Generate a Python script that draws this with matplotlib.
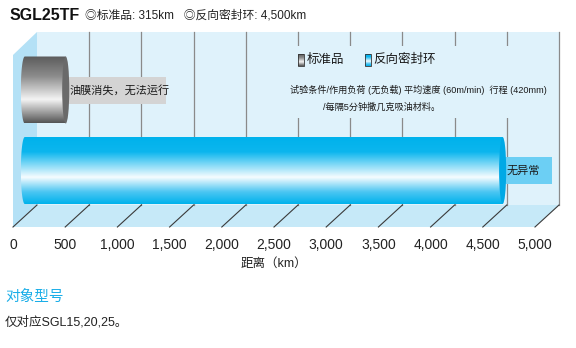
import numpy as np
import matplotlib.pyplot as plt
from matplotlib.patches import Polygon, Rectangle, Ellipse
from matplotlib.colors import LinearSegmentedColormap

plt.rcParams['font.family'] = ['Liberation Sans', 'Noto Sans CJK SC', 'DejaVu Sans']

# ===== 数据 =====
models = ['标准品', '反向密封环']
distance_km = [315, 4500]
results = ['油膜消失，无法运行', '无异常']
ticks = list(range(0, 5001, 500))
tick_labels = [f'{t:,}' for t in ticks]

# ===== 几何 (像素 -> 数据) =====
PXKM = 522 / 5000          # 每 km 像素
DX = 24 / PXKM             # 纵深偏移 (km)
DY = 22                    # 纵深偏移 (px)
TOP = 195

def kx(px):
    return (px - 13) / PXKM

def ky(py):
    return 227 - py

wall_c, side_c, floor_c = '#dff2fb', '#b4e1f6', '#c6e9f8'
cmaps = [
    LinearSegmentedColormap.from_list('g', [(0, '#5c5c5c'), (0.3, '#8c8c8c'), (0.65, '#f4f4f4'),
                                            (0.85, '#9a9a9a'), (1, '#555555')]),
    LinearSegmentedColormap.from_list('b', [(0, '#00b2ec'), (0.22, '#0cb6ee'), (0.6, '#f6fcff'),
                                            (0.82, '#4cc6f2'), (1, '#00b2ec')]),
]
cap_colors = ['#6a6a6a', '#00a9e6']
box_colors = ['#d4d4d4', '#6ccff4']
box_widths = [kx(162) - kx(62), kx(556) - kx(507)]
row_y = [ky(90), ky(170.5)]
half_h = 33.5

fig = plt.figure(figsize=(5.76, 3.48), dpi=100)
ax = fig.add_axes([13 / 576, 1 - 227 / 348, 522 / 576, 195 / 348])
ax.patch.set_visible(False)
for s in ax.spines.values():
    s.set_visible(False)

# ===== 背景墙 / 地面 =====
ax.add_patch(Rectangle((DX, DY), 5000, TOP - DY, fc=wall_c, ec='none', clip_on=False, zorder=0))
ax.add_patch(Polygon([(0, 0), (0, ky(55)), (DX, TOP), (DX, DY)], closed=True,
                     fc=side_c, ec='none', clip_on=False, zorder=0))
ax.add_patch(Polygon([(0, 0), (5000, 0), (5000 + DX, DY), (DX, DY)], closed=True,
                     fc=floor_c, ec='none', clip_on=False, zorder=0))
for t in ticks[1:]:
    ax.plot([t + DX, t + DX], [DY, TOP], color='#8a8a8a', lw=0.9, clip_on=False, zorder=1)
for t in ticks:
    ax.plot([t, t + DX], [0, DY], color='#3a3a3a', lw=0.8, clip_on=False, zorder=1)
# 说明文字区域
ax.add_patch(Rectangle((kx(283), ky(118)), kx(555) - kx(283), 72, fc=wall_c, ec='none',
                       clip_on=False, zorder=1.5))

# ===== 圆柱 =====
x_start = 75
rx_l, rx_c = 38, 34
for i, d in enumerate(distance_km):
    yc = row_y[i]
    x_end = d + 190
    th = np.linspace(np.pi / 2, 3 * np.pi / 2, 40)
    pts = [(x_start + rx_l + rx_l * np.cos(a), yc + half_h * np.sin(a)) for a in th]
    pts += [(x_end, yc - half_h), (x_end, yc + half_h)]
    body = Polygon(pts, closed=True, fc='none', ec='none', zorder=2)
    ax.add_patch(body)
    grad = np.linspace(0, 1, 200).reshape(-1, 1)
    im = ax.imshow(grad, cmap=cmaps[i], extent=(x_start, x_end, yc - half_h, yc + half_h),
                   aspect='auto', origin='upper', zorder=2, interpolation='bilinear')
    im.set_clip_path(body)
    # 标签
    ax.add_patch(Rectangle((x_end, yc - 13.5), box_widths[i], 27, fc=box_colors[i], ec='none',
                           clip_on=False, zorder=2.5))
    ax.add_patch(Ellipse((x_end, yc), 2 * rx_c, 2 * half_h, fc=cap_colors[i], ec='none',
                         clip_on=False, zorder=3))
    ax.text(x_end + rx_c + 4, yc, results[i], fontsize=8, va='center', ha='left',
            color='#1a1a1a', zorder=4, clip_on=False)

# ===== 图例 =====
for i, (x0, xt) in enumerate([(298, 307), (365, 373)]):
    sw = Rectangle((kx(x0), ky(66)), kx(x0 + 6) - kx(x0), 12, fc='none', ec='#333333', lw=0.6, zorder=3)
    ax.add_patch(sw)
    im = ax.imshow(np.linspace(0, 1, 50).reshape(-1, 1), cmap=cmaps[i],
                   extent=(kx(x0), kx(x0 + 6), ky(66), ky(54)), aspect='auto', zorder=2.8)
    im.set_clip_path(sw)
    ax.text(kx(xt), ky(60), models[i], fontsize=9, va='center', ha='left', color='#1a1a1a', zorder=4)

ax.text(kx(290), ky(90), '试验条件/作用负荷 (无负载) 平均速度 (60m/min)  行程 (420mm)',
        fontsize=6.6, va='center', ha='left', color='#1a1a1a', zorder=4)
ax.text(kx(323), ky(107), '/每隔5分钟撒几克吸油材料。',
        fontsize=6.6, va='center', ha='left', color='#1a1a1a', zorder=4)

# ===== 坐标轴 =====
ax.set_xlim(0, 5000)
ax.set_ylim(0, TOP)
ax.set_xticks(ticks, tick_labels, fontsize=10, color='#222222')
ax.set_yticks([])
ax.tick_params(axis='x', length=0, pad=8)
ax.set_xlabel('距离（km）', fontsize=9, labelpad=4, color='#222222')

# ===== 标题与注释 =====
fig.text(10 / 576, 1 - 16 / 348, 'SGL25TF', fontsize=11.5, fontweight='bold', va='center', color='#111111')
fig.text(85 / 576, 1 - 16 / 348, '◎标准品: 315km   ◎反向密封环: 4,500km', fontsize=8.5,
         va='center', color='#222222')
fig.text(5 / 576, 1 - 297 / 348, '对象型号', fontsize=10.5, va='center', color='#1aaee8')
fig.text(5 / 576, 1 - 322 / 348, '仅对应SGL15,20,25。', fontsize=9, va='center', color='#222222')

fig.savefig('out.png', dpi=100)
